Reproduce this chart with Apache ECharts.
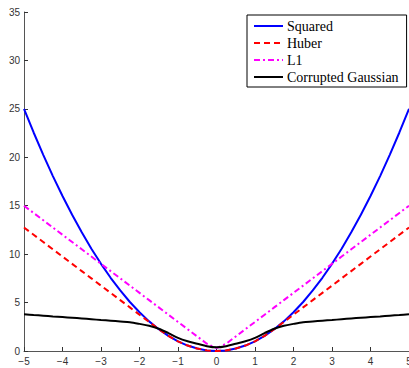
<!DOCTYPE html>
<html>
<head>
<meta charset="utf-8">
<script src="https://cdn.jsdelivr.net/npm/echarts@6/dist/echarts.min.js"></script>
<style>
  html, body { margin: 0; padding: 0; background: #fff; }
  #main { width: 409px; height: 368px; }
</style>
</head>
<body>
<div id="main"></div>
<script>
// x sample points
const xs = [-5, -4.75, -4.5, -4.25, -4, -3.75, -3.5, -3.25, -3, -2.75, -2.5, -2.25, -2, -1.75, -1.5, -1.25, -1, -0.75, -0.5, -0.25,
  0, 0.25, 0.5, 0.75, 1, 1.25, 1.5, 1.75, 2, 2.25, 2.5, 2.75, 3, 3.25, 3.5, 3.75, 4, 4.25, 4.5, 4.75, 5];

const squared = [25, 22.56, 20.25, 18.06, 16, 14.06, 12.25, 10.56, 9, 7.56, 6.25, 5.06, 4, 3.06, 2.25, 1.56, 1, 0.56, 0.25, 0.06,
  0, 0.06, 0.25, 0.56, 1, 1.56, 2.25, 3.06, 4, 5.06, 6.25, 7.56, 9, 10.56, 12.25, 14.06, 16, 18.06, 20.25, 22.56, 25];

const huber = [12.75, 12, 11.25, 10.5, 9.75, 9, 8.25, 7.5, 6.75, 6, 5.25, 4.5, 3.75, 3, 2.25, 1.56, 1, 0.56, 0.25, 0.06,
  0, 0.06, 0.25, 0.56, 1, 1.56, 2.25, 3, 3.75, 4.5, 5.25, 6, 6.75, 7.5, 8.25, 9, 9.75, 10.5, 11.25, 12, 12.75];

const l1 = [15, 14.25, 13.5, 12.75, 12, 11.25, 10.5, 9.75, 9, 8.25, 7.5, 6.75, 6, 5.25, 4.5, 3.75, 3, 2.25, 1.5, 0.75,
  0.3, 0.75, 1.5, 2.25, 3, 3.75, 4.5, 5.25, 6, 6.75, 7.5, 8.25, 9, 9.75, 10.5, 11.25, 12, 12.75, 13.5, 14.25, 15];

const corrupted = [3.8, 3.72, 3.65, 3.57, 3.5, 3.43, 3.36, 3.28, 3.2, 3.13, 3.05, 2.97, 2.8, 2.6, 2.3, 1.85, 1.35, 1.0, 0.75, 0.5,
  0.38, 0.5, 0.75, 1.0, 1.35, 1.85, 2.3, 2.6, 2.8, 2.97, 3.05, 3.13, 3.2, 3.28, 3.36, 3.43, 3.5, 3.57, 3.65, 3.72, 3.8];

const names = ['Squared', 'Huber', 'L1', 'Corrupted Gaussian'];

function pairs(ys) {
  return xs.map((x, i) => [x, ys[i]]);
}

const chart = echarts.init(document.getElementById('main'), null, { renderer: 'svg' });

const minus = v => String(v).replace('-', '\u2212');

chart.setOption({
  animation: false,
  grid: { left: 24, right: 0, top: 12, bottom: 17, outerBoundsMode: 'none' },
  legend: {
    orient: 'vertical',
    left: 247,
    top: 15,
    width: 159,
    padding: [4, 8, 3, 6],
    itemGap: 3,
    itemWidth: 29,
    itemHeight: 14,
    borderColor: '#000',
    borderWidth: 1,
    backgroundColor: '#fff',
    itemStyle: { opacity: 0 },
    textStyle: { fontFamily: "'Liberation Serif', 'Times New Roman', serif", fontSize: 14, color: '#000', padding: [0, 0, 0, -1] },
    data: names
  },
  xAxis: {
    type: 'value',
    min: -5,
    max: 5,
    interval: 1,
    axisLine: { lineStyle: { color: '#555', width: 1 } },
    axisTick: { inside: true, length: 4, lineStyle: { color: '#333' } },
    axisLabel: { fontFamily: 'Liberation Sans', fontSize: 10, color: '#333', margin: 5, formatter: minus },
    splitLine: { show: false }
  },
  yAxis: {
    type: 'value',
    min: 0,
    max: 35,
    interval: 5,
    axisLine: { show: true, onZero: false, lineStyle: { color: '#555', width: 1 } },
    axisTick: { show: true, inside: true, length: 4, lineStyle: { color: '#333' } },
    axisLabel: { fontFamily: 'Liberation Sans', fontSize: 10, color: '#333', margin: 4 },
    splitLine: { show: false }
  },
  series: [
    {
      name: names[0], type: 'line', data: pairs(squared), symbol: 'none',
      itemStyle: { color: '#0000ff' },
      lineStyle: { color: '#0000ff', width: 2 }
    },
    {
      name: names[1], type: 'line', data: pairs(huber), symbol: 'none',
      itemStyle: { color: '#ff0000' },
      lineStyle: { color: '#ff0000', width: 2, type: [6, 4] }
    },
    {
      name: names[2], type: 'line', data: pairs(l1), symbol: 'none',
      itemStyle: { color: '#ff00ff' },
      lineStyle: { color: '#ff00ff', width: 2, type: [6, 3, 2, 3] }
    },
    {
      name: names[3], type: 'line', data: pairs(corrupted), symbol: 'none', smooth: 0.3,
      itemStyle: { color: '#000' },
      lineStyle: { color: '#000', width: 2 }
    }
  ]
});
</script>
</body>
</html>
